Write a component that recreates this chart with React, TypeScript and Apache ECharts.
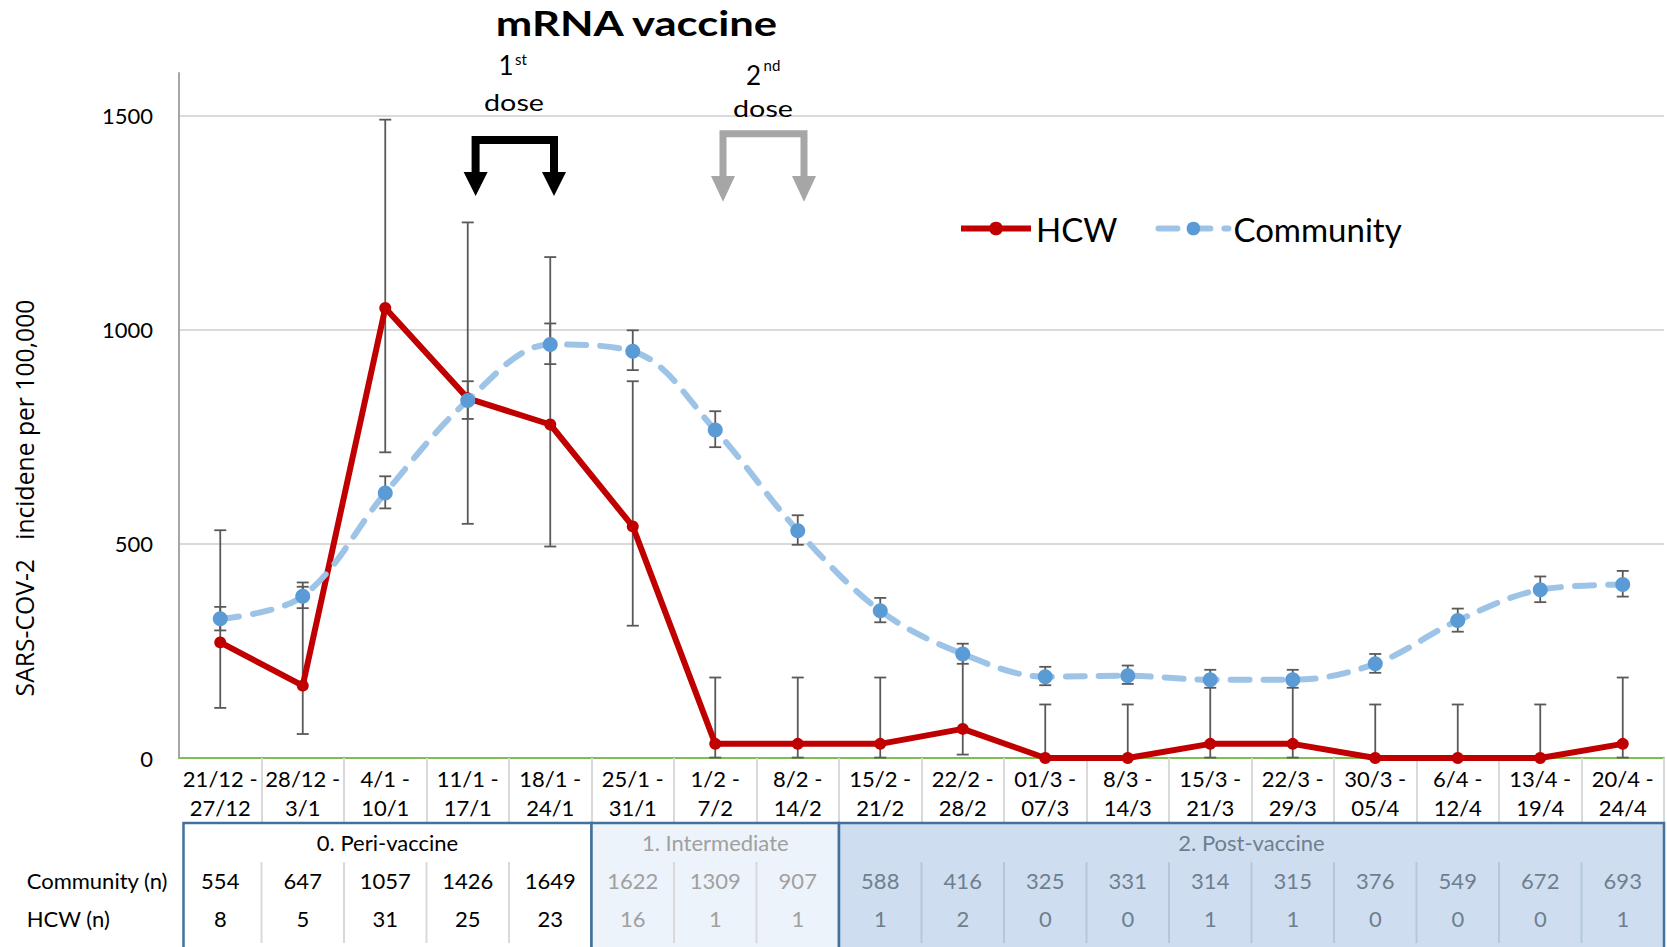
import React, { useEffect, useRef } from 'react';
import * as echarts from 'echarts';

const categories = [
  '21/12 -\n27/12', '28/12 -\n3/1', '4/1 -\n10/1', '11/1 -\n17/1', '18/1 -\n24/1', '25/1 -\n31/1',
  '1/2 -\n7/2', '8/2 -\n14/2', '15/2 -\n21/2', '22/2 -\n28/2', '01/3 -\n07/3', '8/3 -\n14/3',
  '15/3 -\n21/3', '22/3 -\n29/3', '30/3 -\n05/4', '6/4 -\n12/4', '13/4 -\n19/4', '20/4 -\n24/4',
];

const hcwRate = [270, 169, 1051, 840, 779, 541, 33, 33, 33, 68, 0, 0, 33, 33, 0, 0, 0, 33];
const hcwLow = [117, 56, 714, 547, 494, 309, 1, 1, 1, 8, 0, 0, 1, 1, 0, 0, 0, 1];
const hcwHigh = [532, 400, 1491, 1251, 1170, 880, 188, 188, 188, 244, 125, 125, 188, 188, 125, 125, 125, 188];

const communityRate = [325, 378, 619, 835, 966, 950, 766, 531, 344, 243, 190, 192, 183, 183, 220, 321, 393, 405];
const communityLow = [298, 350, 583, 792, 920, 906, 726, 498, 317, 220, 170, 173, 164, 164, 199, 295, 364, 377];
const communityHigh = [353, 410, 658, 880, 1015, 999, 810, 567, 374, 267, 213, 216, 206, 206, 243, 349, 424, 437];

const communityN = [554, 647, 1057, 1426, 1649, 1622, 1309, 907, 588, 416, 325, 331, 314, 315, 376, 549, 672, 693];
const hcwN = [8, 5, 31, 25, 23, 16, 1, 1, 1, 2, 0, 0, 1, 1, 0, 0, 0, 1];

const phaseLabels = ['0. Peri-vaccine', '1. Intermediate', '2. Post-vaccine'];
const phaseStart = [0, 5, 8];
const phaseEnd = [4, 7, 17];
const phaseFill = ['#ffffff', '#EDF3FA', '#CEDEF0'];
const phaseText = ['#000000', '#A0A0A0', '#6F7E8E'];
const phaseSep = ['#D9D9D9', '#D9D9D9', '#B4C8DD'];

const titleText = 'mRNA vaccine';
const yName = 'SARS-COV-2   incidene per 100,000';

function textWidth(text: string, font: string): number {
  const c = document.createElement('canvas').getContext('2d');
  if (!c) return text.length * 10;
  c.font = font;
  return c.measureText(text).width;
}

function errorSeries(name: string, low: number[], high: number[]) {
  return {
    type: 'custom',
    name,
    silent: true,
    z: 2,
    clip: false,
    data: low.map((lo, i) => [i, lo, high[i]]),
    encode: { x: 0, y: [1, 2] },
    renderItem: (_params: any, api: any) => {
      const x = api.value(0);
      const pLo = api.coord([x, api.value(1)]);
      const pHi = api.coord([x, api.value(2)]);
      const hw = 6;
      const st = { stroke: '#595959', lineWidth: 1.8 };
      return {
        type: 'group',
        children: [
          { type: 'line', shape: { x1: pLo[0], y1: pLo[1], x2: pHi[0], y2: pHi[1] }, style: st },
          { type: 'line', shape: { x1: pLo[0] - hw, y1: pLo[1], x2: pLo[0] + hw, y2: pLo[1] }, style: st },
          { type: 'line', shape: { x1: pHi[0] - hw, y1: pHi[1], x2: pHi[0] + hw, y2: pHi[1] }, style: st },
        ],
      };
    },
  };
}

export default function App() {
  const ref = useRef<HTMLDivElement>(null);

  useEffect(() => {
    if (!ref.current) return;
    const chart = echarts.init(ref.current, null, { renderer: 'svg' });

    const option: any = {
      animation: false,
      backgroundColor: '#ffffff',
      textStyle: { fontFamily: 'Lato' },
      grid: { left: 179, right: 3, top: 73, bottom: 189, containLabel: false },
      legend: {
        data: ['HCW', 'Community'],
        left: 953,
        top: 207,
        itemWidth: 70,
        itemHeight: 17,
        itemGap: 38,
        lineStyle: { width: 6 },
        textStyle: { fontFamily: 'Lato', fontSize: 33, color: '#000' },
      },
      xAxis: {
        type: 'category',
        data: categories,
        boundaryGap: true,
        axisLine: { lineStyle: { color: '#7FBF4F', width: 2 } },
        axisTick: {
          show: true,
          length: 64,
          interval: (i: number) => i !== 0,
          lineStyle: { color: '#D9D9D9', width: 2 },
        },
        axisLabel: { interval: 0, margin: 6, fontFamily: 'Lato', fontSize: 22, lineHeight: 29, color: '#000' },
      },
      yAxis: {
        type: 'value',
        min: 0,
        max: 1600,
        interval: 500,
        axisLine: { show: true, lineStyle: { color: '#A6A6A6', width: 2 } },
        axisTick: { show: false },
        axisLabel: {
          margin: 26, fontFamily: 'Lato', fontSize: 22, color: '#000', showMaxLabel: false,
          formatter: (v: number) => String(v),
        },
        splitLine: { show: true, showMaxLine: false, lineStyle: { color: '#D9D9D9', width: 2 } },
      },
      series: [
        errorSeries('hcwErr', hcwLow, hcwHigh),
        errorSeries('communityErr', communityLow, communityHigh),
        {
          type: 'line',
          name: 'HCW',
          data: hcwRate,
          z: 3,
          symbol: 'circle',
          symbolSize: 12,
          lineStyle: { color: '#C00000', width: 6 },
          itemStyle: { color: '#C00000' },
        },
        {
          type: 'line',
          name: 'Community',
          data: communityRate,
          z: 4,
          smooth: 0.35,
          symbol: 'circle',
          symbolSize: 15,
          lineStyle: { color: '#9DC3E6', width: 6, type: [19, 14], cap: 'round' },
          itemStyle: { color: '#5B9BD5' },
        },
      ],
    };

    chart.setOption(option);

    const centers = categories.map((_, i) => chart.convertToPixel({ xAxisIndex: 0 }, i) as number);
    const step = centers[1] - centers[0];
    const boundary = (i: number) => centers[0] + step * (i - 0.5);

    const graphic: any[] = [];

    // Title (stretched horizontally like the reference)
    const titleFont = 'bold 34px Lato';
    const tw = textWidth(titleText, titleFont);
    graphic.push({
      type: 'text', x: 636.5, y: 23, scaleX: 284 / tw, z: 100,
      style: { text: titleText, font: titleFont, fill: '#000', align: 'center', verticalAlign: 'middle' },
    });

    // Dose labels
    const doseFont = '23px Lato';
    const dw = textWidth('dose', doseFont);
    const doseLabels = [
      { num: '1', sup: 'st', nx: 506, ny: 65, sx: 521, sy: 59, dx: 514, dy: 102 },
      { num: '2', sup: 'nd', nx: 753.5, ny: 75, sx: 772, sy: 65, dx: 763, dy: 108 },
    ];
    doseLabels.forEach((d) => {
      graphic.push({ type: 'text', x: d.nx, y: d.ny, z: 100, style: { text: d.num, font: '26px Lato', fill: '#000', align: 'center', verticalAlign: 'middle' } });
      graphic.push({ type: 'text', x: d.sx, y: d.sy, z: 100, style: { text: d.sup, font: '15px Lato', fill: '#000', align: 'center', verticalAlign: 'middle' } });
      graphic.push({ type: 'text', x: d.dx, y: d.dy, scaleX: 60 / dw, z: 100, style: { text: 'dose', font: doseFont, fill: '#000', align: 'center', verticalAlign: 'middle' } });
    });

    // Arrow brackets
    const brackets = [
      { l: 475.6, r: 554, top: 140, bottom: 173, head: 196, color: '#000000', w: 8 },
      { l: 723, r: 804, top: 133.7, bottom: 177, head: 201.7, color: '#A6A6A6', w: 7 },
    ];
    brackets.forEach((b) => {
      graphic.push({
        type: 'polyline', z: 100,
        shape: { points: [[b.l, b.bottom], [b.l, b.top], [b.r, b.top], [b.r, b.bottom]] },
        style: { stroke: b.color, lineWidth: b.w, fill: null, lineJoin: 'miter' },
      });
      [b.l, b.r].forEach((x) => {
        graphic.push({
          type: 'polygon', z: 100,
          shape: { points: [[x - 12, b.bottom - 1], [x + 12, b.bottom - 1], [x, b.head]] },
          style: { fill: b.color },
        });
      });
    });

    // Y-axis name
    const yNameSize = (20 * 397) / textWidth(yName, '20px "Open Sans"');
    graphic.push({
      type: 'text', x: 24, y: 498, rotation: Math.PI / 2, z: 100,
      style: { text: yName, font: `${yNameSize}px "Open Sans"`, fill: '#000', align: 'center', verticalAlign: 'middle' },
    });

    // Table below the axis
    const tableTop = 823;
    const tableBottom = 975;
    phaseLabels.forEach((label, p) => {
      const x0 = p === 0 ? boundary(phaseStart[p]) + 4.5 : boundary(phaseStart[p]);
      const x1 = Math.min(boundary(phaseEnd[p] + 1), 1665);
      graphic.push({
        type: 'rect', z: 90,
        shape: { x: x0, y: tableTop, width: x1 - x0, height: tableBottom - tableTop },
        style: { fill: phaseFill[p], stroke: '#41719C', lineWidth: 2.5 },
      });
      for (let i = phaseStart[p] + 1; i <= phaseEnd[p]; i++) {
        const bx = boundary(i);
        graphic.push({
          type: 'line', z: 91,
          shape: { x1: bx, y1: 862, x2: bx, y2: 943 },
          style: { stroke: phaseSep[p], lineWidth: 2 },
        });
      }
      graphic.push({
        type: 'text', x: (x0 + x1) / 2, y: 842, z: 92,
        style: { text: label, font: '22px Lato', fill: phaseText[p], align: 'center', verticalAlign: 'middle' },
      });
      for (let i = phaseStart[p]; i <= phaseEnd[p]; i++) {
        graphic.push({
          type: 'text', x: centers[i], y: 880, z: 92,
          style: { text: String(communityN[i]), font: '22px Lato', fill: phaseText[p], align: 'center', verticalAlign: 'middle' },
        });
        graphic.push({
          type: 'text', x: centers[i], y: 918, z: 92,
          style: { text: String(hcwN[i]), font: '22px Lato', fill: phaseText[p], align: 'center', verticalAlign: 'middle' },
        });
      }
    });
    graphic.push({ type: 'text', x: 26.7, y: 880, z: 92, style: { text: 'Community (n)', font: '22px Lato', fill: '#000', align: 'left', verticalAlign: 'middle' } });
    graphic.push({ type: 'text', x: 26.7, y: 918, z: 92, style: { text: 'HCW (n)', font: '22px Lato', fill: '#000', align: 'left', verticalAlign: 'middle' } });

    chart.setOption({ graphic });

    return () => chart.dispose();
  }, []);

  return (
    <div
      ref={ref}
      style={{ position: 'fixed', left: 0, top: 0, width: 1667, height: 947, background: '#ffffff' }}
    />
  );
}
